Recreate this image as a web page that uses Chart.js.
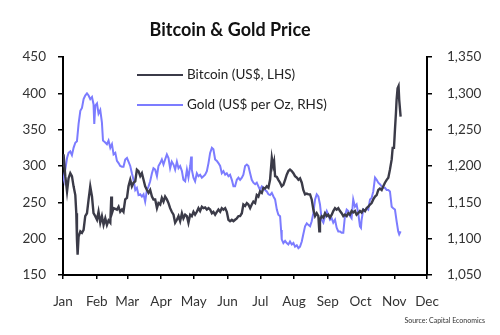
<!DOCTYPE html>
<html lang="en">
<head>
<meta charset="utf-8">
<title>Bitcoin &amp; Gold Price</title>
<script src="https://cdn.jsdelivr.net/npm/chart.js"></script>
<style>
  html, body { margin: 0; padding: 0; background: #fff; }
  #wrap { width: 500px; height: 335px; }
</style>
</head>
<body>
<div id="wrap"><canvas id="chart" width="500" height="335"></canvas></div>
<script>
var titleText = 'Bitcoin & Gold Price';
var sourceText = 'Source: Capital Economics';

// month ticks (day of year)
var monthLabels = ['Jan', 'Feb', 'Mar', 'Apr', 'May', 'Jun', 'Jul', 'Aug', 'Sep', 'Oct', 'Nov', 'Dec'];
var monthStarts = [0, 31, 59, 90, 120, 151, 181, 212, 243, 273, 304, 334];

// Bitcoin, US$ (left axis)
var btcDays = [
  0, 0.5, 2.1, 3.7, 5.1, 6.7, 8.2, 9.7, 11.3, 12.2,
  12.8, 13.4, 14.3, 15.9, 17.4, 18.9, 20.4, 22.0, 23.5, 25.0,
  26.6, 28.0, 29.6, 31.2, 32.6, 34.2, 35.7, 37.2, 38.8, 40.3,
  41.8, 43.4, 44.3, 44.9, 46.4, 48.0, 49.5, 51.0, 52.5, 54.1,
  55.5, 57.1, 58.7, 60.1, 61.7, 63.2, 64.7, 66.3, 67.8, 69.3,
  70.9, 72.4, 73.9, 75.4, 77.0, 78.5, 80.0, 81.6, 83.0, 84.6,
  86.2, 87.6, 89.2, 90.7, 92.2, 93.7, 95.3, 96.8, 98.3, 99.8,
  101.4, 102.9, 104.5, 106.0, 107.5, 109.1, 110.5, 112.1, 113.7, 115.1,
  116.7, 118.2, 119.7, 121.2, 122.8, 124.3, 125.8, 127.4, 128.9, 130.4,
  132.0, 133.5, 135.0, 136.6, 138.0, 139.6, 141.2, 142.6, 144.2, 145.7,
  147.2, 148.8, 150.3, 151.8, 153.3, 154.9, 156.4, 157.9, 159.5, 161.0,
  162.5, 164.1, 165.5, 167.1, 168.7, 170.1, 171.7, 173.2, 174.7, 176.3,
  177.8, 179.3, 180.8, 182.4, 183.9, 185.4, 187.0, 188.5, 190.0, 191.6,
  192.8, 193.7, 194.6, 196.2, 197.6, 199.2, 200.7, 202.2, 203.8, 205.3,
  206.8, 208.3, 209.9, 211.4, 212.9, 214.5, 216.0, 217.5, 219.1, 220.5,
  222.1, 223.7, 225.1, 226.7, 228.2, 229.7, 231.3, 232.8, 234.3, 235.2,
  235.8, 237.4, 238.9, 240.4, 242.0, 243.4, 245.0, 246.6, 248.0, 249.6,
  251.1, 252.6, 254.2, 255.7, 257.2, 258.7, 260.3, 261.8, 263.3, 264.8,
  266.3, 267.9, 269.4, 270.9, 272.5, 274.0, 275.5, 277.1, 278.6, 280.1,
  281.7, 283.2, 284.7, 286.3, 287.8, 289.3, 290.8, 292.4, 293.9, 295.4,
  297.0, 298.5, 300.0, 301.6, 302.5, 303.7, 304.6, 305.5, 306.1, 307.0,
  307.9, 308.5, 309.8
];
var btcPrice = [
  300, 316, 286, 265, 283, 290, 286, 272, 260, 235,
  199, 178, 203, 210, 208, 212, 231, 235, 254, 272,
  258, 235, 231, 226, 237, 222, 231, 219, 228, 219,
  225, 222, 258, 235, 242, 241, 240, 244, 237, 240,
  237, 254, 256, 272, 281, 272, 277, 279, 295, 293,
  286, 290, 281, 272, 267, 263, 267, 258, 254, 254,
  242, 249, 247, 256, 251, 258, 254, 249, 242, 237,
  233, 222, 226, 231, 224, 235, 228, 233, 231, 222,
  233, 231, 237, 233, 237, 242, 238, 244, 242, 243,
  240, 242, 240, 235, 237, 233, 237, 240, 237, 242,
  240, 242, 237, 226, 224, 226, 224, 226, 228, 231,
  231, 235, 247, 245, 249, 247, 242, 247, 251, 249,
  260, 258, 265, 263, 270, 269, 272, 270, 281, 311,
  300, 306, 286, 285, 281, 277, 272, 274, 281, 288,
  293, 295, 293, 290, 286, 284, 281, 283, 277, 267,
  261, 262, 261, 261, 254, 240, 231, 235, 231, 210,
  226, 231, 229, 235, 231, 233, 229, 233, 238, 242,
  240, 242, 238, 235, 231, 233, 231, 235, 233, 238,
  236, 238, 233, 235, 238, 236, 240, 238, 242, 244,
  247, 249, 254, 258, 260, 267, 269, 267, 272, 277,
  281, 284, 295, 309, 325, 325, 350, 373, 391, 407,
  410, 391, 368
];

// Gold, US$ per Oz (right axis)
var goldDays = [
  0, 0.5, 2.1, 3.7, 5.1, 6.7, 8.2, 9.7, 11.3, 12.8,
  14.3, 15.9, 17.4, 18.9, 20.4, 22.0, 23.5, 25.0, 26.6, 28.0,
  28.7, 29.6, 31.2, 32.6, 34.2, 35.7, 36.7, 38.3, 40.3, 41.8,
  43.4, 44.9, 46.4, 48.0, 49.5, 51.0, 52.5, 54.1, 55.5, 57.1,
  58.7, 60.1, 61.7, 63.2, 64.7, 66.3, 67.8, 69.3, 70.9, 72.4,
  73.9, 75.4, 77.0, 78.5, 80.0, 81.6, 83.0, 84.6, 86.2, 87.6,
  89.2, 90.7, 92.2, 93.7, 95.3, 96.8, 98.3, 99.8, 101.4, 102.9,
  104.5, 106.0, 107.5, 109.1, 110.5, 112.1, 113.7, 115.1, 116.7, 117.6,
  118.2, 119.7, 121.2, 122.8, 124.3, 125.8, 127.4, 128.9, 130.4, 132.0,
  133.5, 135.0, 136.6, 138.0, 139.6, 141.2, 142.6, 144.2, 145.7, 147.2,
  148.8, 150.3, 151.8, 153.3, 154.9, 156.4, 157.9, 159.5, 161.0, 162.5,
  164.1, 165.5, 167.1, 168.7, 170.1, 171.7, 173.2, 174.7, 176.3, 177.8,
  179.3, 180.8, 182.4, 183.9, 185.4, 187.0, 188.5, 190.0, 191.6, 193.1,
  194.6, 196.2, 197.6, 199.2, 200.1, 200.7, 202.2, 203.8, 205.3, 206.8,
  208.3, 209.9, 211.4, 212.9, 214.5, 216.0, 217.5, 219.1, 220.5, 222.1,
  223.7, 225.1, 226.7, 228.2, 229.7, 231.3, 232.8, 234.3, 235.8, 237.4,
  238.9, 240.4, 242.0, 243.4, 245.0, 246.6, 248.0, 249.6, 251.1, 252.6,
  254.2, 255.7, 257.2, 258.7, 260.3, 261.8, 263.3, 264.8, 266.3, 267.9,
  269.4, 270.9, 272.5, 273.4, 274.0, 275.5, 277.1, 278.6, 280.1, 281.7,
  283.2, 284.7, 286.3, 287.8, 289.3, 290.8, 292.4, 293.9, 295.4, 297.0,
  298.5, 300.0, 301.6, 303.0, 304.6, 306.1, 307.6, 308.5, 309.8
];
var goldPrice = [
  1186, 1183, 1195, 1211, 1218, 1220, 1215, 1225, 1232, 1234,
  1258, 1276, 1280, 1292, 1297, 1300, 1297, 1292, 1295, 1285,
  1258, 1283, 1286, 1272, 1277, 1260, 1235, 1233, 1230, 1235,
  1225, 1230, 1216, 1218, 1207, 1204, 1200, 1199, 1199, 1209,
  1211, 1206, 1200, 1190, 1181, 1167, 1170, 1160, 1161, 1158,
  1161, 1151, 1167, 1172, 1179, 1190, 1197, 1195, 1186, 1200,
  1204, 1209, 1202, 1209, 1216, 1211, 1197, 1206, 1202, 1195,
  1206, 1197, 1200, 1193, 1181, 1179, 1195, 1184, 1200, 1213,
  1195, 1184, 1179, 1190, 1186, 1188, 1184, 1186, 1188, 1193,
  1204, 1218, 1225, 1223, 1209, 1207, 1204, 1200, 1190, 1193,
  1188, 1190, 1186, 1188, 1181, 1172, 1172, 1181, 1184, 1181,
  1184, 1188, 1200, 1202, 1200, 1190, 1181, 1177, 1175, 1177,
  1172, 1167, 1172, 1170, 1167, 1165, 1161, 1160, 1163, 1158,
  1154, 1140, 1133, 1131, 1112, 1099, 1094, 1097, 1094, 1092,
  1096, 1092, 1094, 1089, 1091, 1087, 1089, 1096, 1106, 1117,
  1121, 1119, 1117, 1124, 1135, 1154, 1161, 1158, 1147, 1126,
  1122, 1131, 1138, 1133, 1126, 1128, 1122, 1126, 1115, 1110,
  1110, 1108, 1108, 1131, 1140, 1138, 1131, 1128, 1154, 1144,
  1147, 1135, 1117, 1115, 1126, 1140, 1138, 1142, 1140, 1154,
  1156, 1165, 1184, 1181, 1177, 1175, 1172, 1170, 1170, 1167,
  1167, 1165, 1144, 1142, 1140, 1124, 1110, 1106, 1110
];

var fontFamily = 'Lato, "Open Sans", sans-serif';
var tickColor = '#333';

function toPoints(xs, ys) {
  return xs.map(function (x, i) { return { x: x, y: ys[i] }; });
}

// title, in-plot legend and source note
var overlay = {
  id: 'overlay',
  afterDraw: function (chart) {
    var ctx = chart.ctx;
    ctx.save();
    ctx.fillStyle = '#111';
    ctx.textAlign = 'center';
    ctx.textBaseline = 'middle';
    ctx.font = 'bold 18px ' + fontFamily;
    ctx.fillText(titleText, 230, 30);

    ctx.textAlign = 'left';
    ctx.font = '13.5px ' + fontFamily;
    chart.data.datasets.forEach(function (ds, i) {
      var y = 75 + i * 30;
      ctx.strokeStyle = ds.borderColor;
      ctx.lineWidth = 2;
      ctx.beginPath();
      ctx.moveTo(137, y);
      ctx.lineTo(183, y);
      ctx.stroke();
      ctx.fillStyle = '#222';
      ctx.fillText(ds.label, 187, y);
    });

    ctx.textAlign = 'right';
    ctx.font = '7px ' + fontFamily;
    ctx.fillStyle = '#333';
    ctx.fillText(sourceText, 485, 321);
    ctx.restore();
  }
};

new Chart(document.getElementById('chart').getContext('2d'), {
  type: 'line',
  data: {
    datasets: [{
      label: 'Bitcoin (US$, LHS)',
      data: toPoints(btcDays, btcPrice),
      yAxisID: 'y',
      borderColor: '#3b3b48',
      borderWidth: 2.4,
      pointRadius: 0,
      tension: 0
    }, {
      label: 'Gold (US$ per Oz, RHS)',
      data: toPoints(goldDays, goldPrice),
      yAxisID: 'y2',
      borderColor: '#7c7cff',
      borderWidth: 2,
      pointRadius: 0,
      tension: 0
    }]
  },
  options: {
    responsive: false,
    animation: false,
    devicePixelRatio: 1,
    layout: { padding: { top: 57, left: 0, right: 0, bottom: 0 } },
    plugins: {
      legend: { display: false },
      title: { display: false },
      tooltip: { enabled: false }
    },
    scales: {
      x: {
        type: 'linear',
        min: 0,
        max: 334,
        afterBuildTicks: function (scale) {
          scale.ticks = monthStarts.map(function (v) { return { value: v }; });
        },
        afterFit: function (scale) { scale.height = 60; },
        ticks: {
          autoSkip: false,
          maxRotation: 0,
          padding: 15,
          color: tickColor,
          font: { family: fontFamily, size: 13.5 },
          callback: function (v, i) { return monthLabels[i]; }
        },
        grid: { drawOnChartArea: false, tickLength: 4, color: '#000', lineWidth: 1.5 },
        border: { color: '#000', width: 2 }
      },
      y: {
        position: 'left',
        min: 150,
        max: 450,
        afterFit: function (scale) { scale.width = 63; },
        ticks: {
          stepSize: 50,
          padding: 12,
          color: tickColor,
          font: { family: fontFamily, size: 13.5 }
        },
        grid: { drawOnChartArea: false, tickLength: 5, color: '#000', lineWidth: 1.5 },
        border: { color: '#000', width: 2 }
      },
      y2: {
        position: 'right',
        min: 1050,
        max: 1350,
        afterFit: function (scale) { scale.width = 73; },
        ticks: {
          stepSize: 50,
          padding: 15,
          color: tickColor,
          font: { family: fontFamily, size: 13.5 },
          callback: function (v) { return v.toLocaleString('en-US'); }
        },
        grid: { drawOnChartArea: false, tickLength: 5, color: '#000', lineWidth: 1.5 },
        border: { color: '#000', width: 2 }
      }
    }
  },
  plugins: [overlay]
});
</script>
</body>
</html>
